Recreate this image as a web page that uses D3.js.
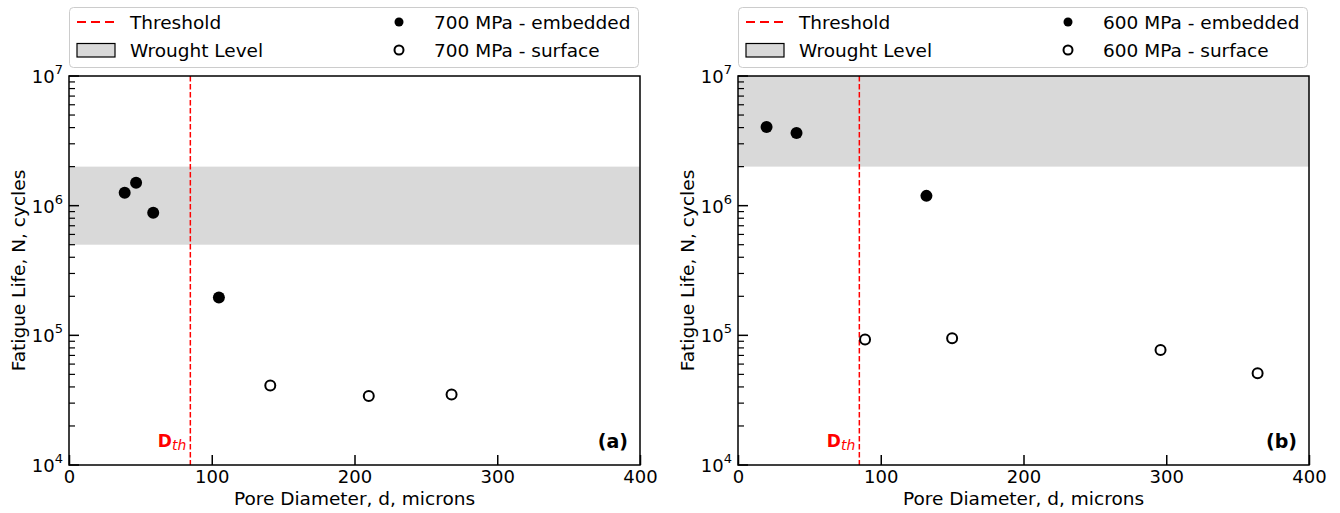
<!DOCTYPE html>
<html><head><meta charset="utf-8">
<script src="https://cdn.jsdelivr.net/npm/d3@7"></script>
<style>body{margin:0;background:#fff;} text{font-family:"DejaVu Sans",sans-serif;}</style>
</head><body>
<svg id="c" width="1340" height="513"></svg>
<script>
// Data
const threshold = 85;
const xTicks = [0, 100, 200, 300, 400];
const yTickExps = [4, 5, 6, 7];
const panelLabels = ["(a)", "(b)"];
const stressLabels = ["700 MPa", "600 MPa"];
const wroughtA = [5e5, 2e6];
const wroughtB = [2e6, 1e7];
const embeddedA_d = [39, 47, 59, 105];
const embeddedA_N = [1.26e6, 1.5e6, 8.8e5, 1.96e5];
const surfaceA_d = [141, 210, 268];
const surfaceA_N = [4.1e4, 3.4e4, 3.5e4];
const embeddedB_d = [20, 41, 132];
const embeddedB_N = [4.05e6, 3.64e6, 1.19e6];
const surfaceB_d = [89, 150, 296, 364];
const surfaceB_N = [9.3e4, 9.5e4, 7.7e4, 5.1e4];

const panels = [
  {left: 69, label: panelLabels[0], stress: stressLabels[0], band: wroughtA,
   emb: embeddedA_d.map((d,i)=>({d, N: embeddedA_N[i]})),
   surf: surfaceA_d.map((d,i)=>({d, N: surfaceA_N[i]}))},
  {left: 738, label: panelLabels[1], stress: stressLabels[1], band: wroughtB,
   emb: embeddedB_d.map((d,i)=>({d, N: embeddedB_N[i]})),
   surf: surfaceB_d.map((d,i)=>({d, N: surfaceB_N[i]}))}
];

const svg = d3.select("#c");
const W = 571, pTop = 76, pBottom = 465;
const FS = 18.5;

panels.forEach(p => {
  const g = svg.append("g").attr("transform", `translate(${p.left},0)`);
  const x = d3.scaleLinear().domain([0, 400]).range([0, W]);
  const y = d3.scaleLog().domain([1e4, 1e7]).range([pBottom, pTop]);

  // wrought band
  g.append("rect").attr("x", 0).attr("width", W)
    .attr("y", y(p.band[1])).attr("height", y(p.band[0]) - y(p.band[1]))
    .attr("fill", "#d9d9d9");

  // threshold line
  g.append("line").attr("x1", x(threshold)).attr("x2", x(threshold))
    .attr("y1", pTop).attr("y2", pBottom)
    .attr("stroke", "red").attr("stroke-width", 1.5).attr("stroke-dasharray", "5.5,2.5");

  // points
  g.selectAll("circle.emb").data(p.emb).enter().append("circle")
    .attr("cx", d => x(d.d)).attr("cy", d => y(d.N)).attr("r", 6).attr("fill", "black");
  g.selectAll("circle.surf").data(p.surf).enter().append("circle")
    .attr("cx", d => x(d.d)).attr("cy", d => y(d.N)).attr("r", 5)
    .attr("fill", "white").attr("stroke", "black").attr("stroke-width", 2);

  // frame
  g.append("rect").attr("x", 0).attr("y", pTop).attr("width", W).attr("height", pBottom - pTop)
    .attr("fill", "none").attr("stroke", "black").attr("stroke-width", 1.5);

  // x axis
  const xa = d3.axisBottom(x).tickValues(xTicks).tickSizeInner(-10).tickSizeOuter(0).tickPadding(3);
  const xg = g.append("g").attr("transform", `translate(0,${pBottom})`).call(xa);
  xg.select(".domain").remove();
  xg.selectAll("line").attr("stroke-width", 1.5);
  xg.selectAll("text").attr("font-size", 18).attr("font-family", "DejaVu Sans").attr("fill", "black")
    .attr("y", 0).attr("dy", 0).attr("transform", "translate(0,18)");

  // y axis major/minor ticks
  const majors = yTickExps.map(e => Math.pow(10, e));
  const minors = [];
  [4,5,6].forEach(e => { for (let k = 2; k <= 9; k++) minors.push(k * Math.pow(10, e)); });
  g.selectAll("line.ymaj").data(majors).enter().append("line")
    .attr("x1", 0).attr("x2", 10).attr("y1", d => y(d)).attr("y2", d => y(d))
    .attr("stroke", "black").attr("stroke-width", 1.5);
  g.selectAll("line.ymin").data(minors).enter().append("line")
    .attr("x1", 0).attr("x2", 6).attr("y1", d => y(d)).attr("y2", d => y(d))
    .attr("stroke", "black").attr("stroke-width", 1.2);
  yTickExps.forEach(e => {
    const t = g.append("text").attr("x", -6).attr("y", y(Math.pow(10, e)) + 7)
      .attr("text-anchor", "end").attr("font-size", 18).attr("fill", "black");
    t.append("tspan").text("10");
    t.append("tspan").attr("dy", -9).attr("font-size", 13).text(e);
  });

  // axis labels
  g.append("text").attr("x", W / 2).attr("y", 505).attr("text-anchor", "middle")
    .attr("font-size", FS).text("Pore Diameter, d, microns");
  g.append("text").attr("transform", `translate(-44,${(pTop + pBottom) / 2}) rotate(-90)`)
    .attr("text-anchor", "middle").attr("font-size", FS).text("Fatigue Life, N, cycles");

  // D_th label
  const dt = g.append("text").attr("x", x(threshold) - 4).attr("y", 447).attr("text-anchor", "end")
    .attr("fill", "red").attr("font-size", 17);
  dt.append("tspan").attr("font-weight", "bold").text("D");
  dt.append("tspan").attr("font-style", "italic").attr("font-size", 14).attr("dy", 3).text("th");

  // panel label
  g.append("text").attr("x", W - 12).attr("y", 448).attr("text-anchor", "end")
    .attr("font-size", 19).attr("font-weight", "bold").text(p.label);

  // legend
  const lg = g.append("g");
  lg.append("rect").attr("x", 0.5).attr("y", 7.5).attr("width", W - 2).attr("height", 60).attr("rx", 4)
    .attr("fill", "white").attr("stroke", "#cccccc").attr("stroke-width", 1);
  lg.append("line").attr("x1", 8).attr("x2", 46).attr("y1", 22).attr("y2", 22)
    .attr("stroke", "red").attr("stroke-width", 2).attr("stroke-dasharray", "9,5");
  lg.append("text").attr("x", 61).attr("y", 29).attr("font-size", FS).text("Threshold");
  lg.append("rect").attr("x", 8).attr("y", 43.5).attr("width", 38).attr("height", 13.5)
    .attr("fill", "#d9d9d9").attr("stroke", "black").attr("stroke-width", 1.2);
  lg.append("text").attr("x", 61).attr("y", 57).attr("font-size", FS).text("Wrought Level");
  lg.append("circle").attr("cx", 330).attr("cy", 22).attr("r", 4.5).attr("fill", "black");
  lg.append("text").attr("x", 365).attr("y", 29).attr("font-size", FS).text(p.stress + " - embedded");
  lg.append("circle").attr("cx", 330).attr("cy", 50).attr("r", 4.5).attr("fill", "white")
    .attr("stroke", "black").attr("stroke-width", 2);
  lg.append("text").attr("x", 365).attr("y", 57).attr("font-size", FS).text(p.stress + " - surface");
});
</script>
</body></html>
